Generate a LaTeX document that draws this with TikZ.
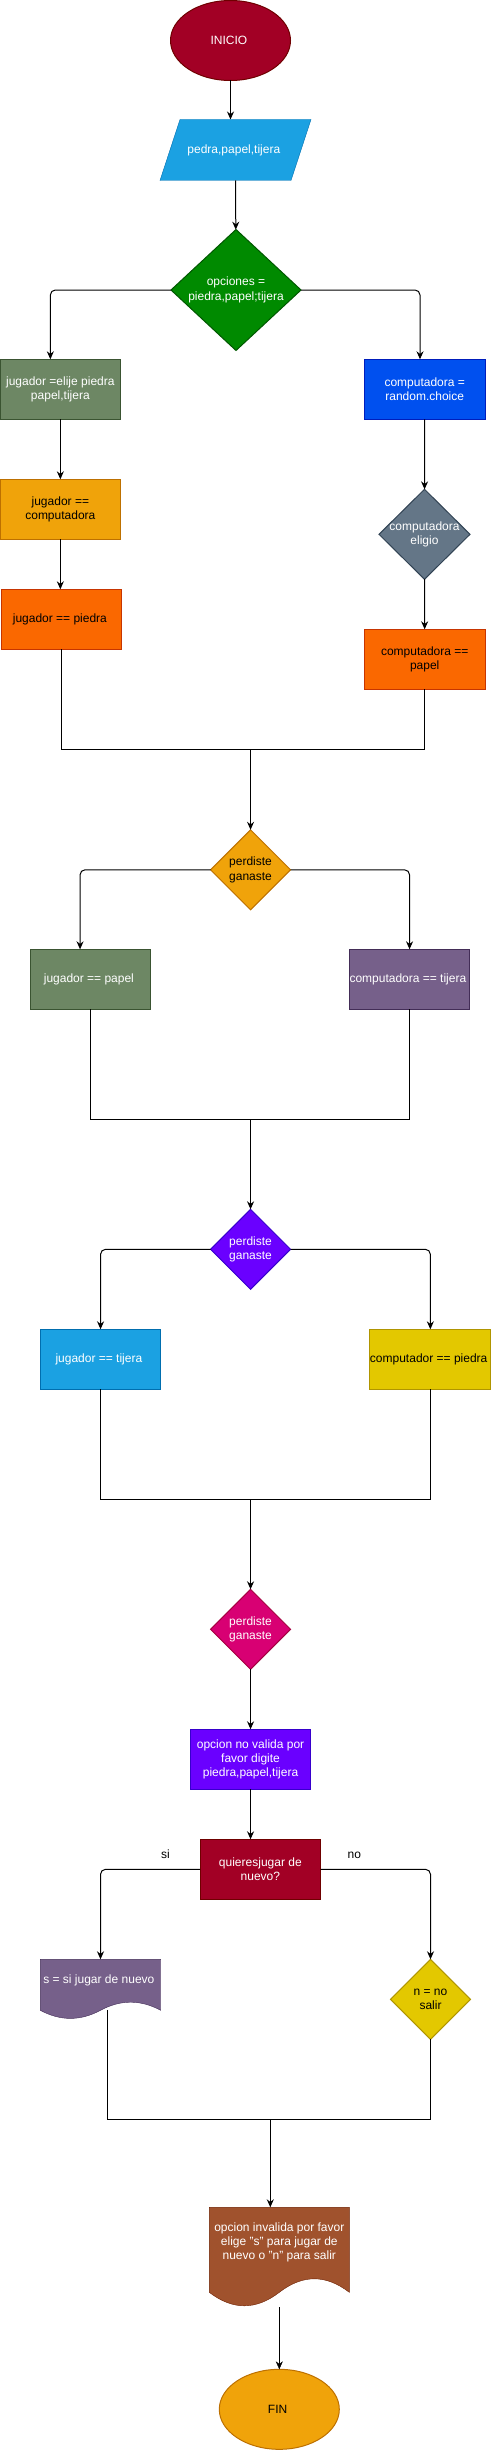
\documentclass[tikz,border=0pt]{standalone}
\usepackage{fontspec}
\setmainfont{Liberation Sans}
\usetikzlibrary{positioning,shapes.geometric,arrows.meta,backgrounds,calc}
\definecolor{carmin}{HTML}{A20025}\definecolor{carminB}{HTML}{6F0000}
\definecolor{celeste}{HTML}{1BA1E2}\definecolor{celesteB}{HTML}{006EAF}
\definecolor{verde}{HTML}{008A00}\definecolor{verdeB}{HTML}{005700}
\definecolor{musgo}{HTML}{6D8764}\definecolor{musgoB}{HTML}{3A5431}
\definecolor{azul}{HTML}{0050EF}\definecolor{azulB}{HTML}{001DBC}
\definecolor{ambar}{HTML}{F0A30A}\definecolor{ambarB}{HTML}{BD7000}
\definecolor{naranja}{HTML}{FA6800}\definecolor{naranjaB}{HTML}{C73500}
\definecolor{pizarra}{HTML}{647687}\definecolor{pizarraB}{HTML}{314354}
\definecolor{morado}{HTML}{76608A}\definecolor{moradoB}{HTML}{432D57}
\definecolor{violeta}{HTML}{6A00FF}\definecolor{violetaB}{HTML}{3700CC}
\definecolor{amarillo}{HTML}{E3C800}\definecolor{amarilloB}{HTML}{B09500}
\definecolor{magenta}{HTML}{D80073}\definecolor{magentaB}{HTML}{A50040}
\definecolor{siena}{HTML}{A0522D}\definecolor{sienaB}{HTML}{6D1F00}
\tikzstyle{base}=[font=\fontsize{12}{14.4}\selectfont, align=center, inner sep=0pt, outer sep=0pt, line width=1pt]
\tikzstyle{proc}=[base, rectangle, draw, minimum width=120.7pt, minimum height=60pt]
\tikzstyle{decision}=[base, diamond, draw, minimum width=80pt, minimum height=80pt]
\tikzstyle{terminal}=[base, ellipse, draw, minimum width=120pt, minimum height=80pt]
\tikzstyle{docnode}=[base, rectangle]
\tikzstyle{lbl}=[font=\fontsize{12}{14.4}\selectfont, inner sep=0pt]
\tikzset{>={Stealth[length=8pt,width=7pt]}}
% hoja con borde inferior ondulado, dibujada bajo el nodo
\newcommand{\wavedoc}[5]{%
    \filldraw[fill=#4, draw=#5]
        (#1.north west) -- ($(#1.north west)+(#2,0)$)
        -- ($(#1.north west)+(#2,-0.85*#3)$)
        .. controls ($(#1.north west)+(0.8333*#2,-0.67*#3)$) and ($(#1.north west)+(0.6667*#2,-0.67*#3)$)
        .. ($(#1.north west)+(0.5*#2,-0.85*#3)$)
        .. controls ($(#1.north west)+(0.3333*#2,-1.03*#3)$) and ($(#1.north west)+(0.1667*#2,-1.03*#3)$)
        .. ($(#1.north west)+(0,-0.85*#3)$) -- cycle;}

\begin{document}
\begin{tikzpicture}[x=1pt, y=1pt, line width=1pt]
        \useasboundingbox (0,0) rectangle (491,-2451);

        \node(inicio)[terminal, fill=carmin, draw=carminB, text=white] at (230.5,-40.5) {
            INICIO
        };
        \node(datos)[docnode, text=white, minimum width=131pt, minimum height=61pt, below=39pt of inicio, xshift=5pt] {
            pedra,papel,tijera
        };
        \draw[->] (inicio) -- (inicio |- datos.north);

        \node(opciones)[decision, fill=verde, draw=verdeB, text=white, minimum width=130pt, minimum height=121pt, below=49pt of datos, xshift=0.5pt] {
            opciones =\\piedra,papel;tijera
        };
        \draw[->] (datos) -- (opciones);

        % rama del jugador
        \node(jelije)[proc, fill=musgo, draw=musgoB, text=white, below=8.8pt of opciones, xshift=-175.65pt] {
            jugador =elije piedra\\papel,tijera
        };
        \node(jcomp)[proc, fill=ambar, draw=ambarB, below=60pt of jelije] {
            jugador ==\\computadora
        };
        \node(jpiedra)[proc, fill=naranja, draw=naranjaB, below=50pt of jcomp, xshift=1.2pt] {
            jugador == piedra
        };
        \draw[->, rounded corners=5pt] (opciones.west) -| ([xshift=-10pt]jelije.north);
        \draw[->] (jelije) -- (jcomp);
        \draw[->] (jcomp) -- (jcomp |- jpiedra.north);

        % rama de la computadora
        \node(crandom)[proc, fill=azul, draw=azulB, text=white, below=8.8pt of opciones, xshift=188.7pt] {
            computadora =\\random.choice
        };
        \node(celigio)[decision, fill=pizarra, draw=pizarraB, text=white, inner sep=-2.5pt, minimum width=91pt, minimum height=90pt, below=70pt of crandom, xshift=-0.2pt] {
            computadora\\eligio
        };
        \node(cpapel)[proc, fill=naranja, draw=naranjaB, below=50pt of celigio, xshift=0.2pt] {
            computadora ==\\papel
        };
        \draw[->, rounded corners=5pt] (opciones.east) -| ([xshift=-4.7pt]crandom.north);
        \draw[->] (crandom) -- (celigio);
        \draw[->] (celigio) -- (cpapel);

        % primera comparacion
        \node(perd1)[decision, fill=ambar, draw=ambarB, below=180.5pt of jpiedra, xshift=189pt] {
            perdiste\\ganaste
        };
        \coordinate[above=80.5pt of perd1] (j1);
        \draw (jpiedra.south) |- (j1) -| (cpapel.south);
        \draw[->] (j1) -- (perd1);

        \node(jpapel)[proc, fill=musgo, draw=musgoB, text=white, below=39.5pt of perd1, xshift=-160pt] {
            jugador == papel
        };
        \node(ctijera)[proc, fill=morado, draw=moradoB, text=white, below=39.5pt of perd1, xshift=159pt] {
            computadora == tijera
        };
        \draw[->, rounded corners=5pt] (perd1.west) -| ([xshift=-10.5pt]jpapel.north);
        \draw[->, rounded corners=5pt] (perd1.east) -| (ctijera.north);

        % segunda comparacion
        \node(perd2)[decision, fill=violeta, draw=violetaB, text=white, below=200pt of jpapel, xshift=160pt] {
            perdiste\\ganaste
        };
        \coordinate[above=90pt of perd2] (j2);
        \draw (jpapel.south) |- (j2) -| (ctijera.south);
        \draw[->] (j2) -- (perd2);

        \node(jtijera)[proc, fill=celeste, draw=celesteB, text=white, below=40pt of perd2, xshift=-150pt] {
            jugador == tijera
        };
        \node(cpiedra)[proc, fill=amarillo, draw=amarilloB, below=40pt of perd2, xshift=179.8pt] {
            computador == piedra
        };
        \draw[->, rounded corners=5pt] (perd2.west) -| (jtijera.north);
        \draw[->, rounded corners=5pt] (perd2.east) -| (cpiedra.north);

        % tercera comparacion
        \node(perd3)[decision, fill=magenta, draw=magentaB, text=white, below=200pt of jtijera, xshift=150pt] {
            perdiste\\ganaste
        };
        \coordinate[above=90pt of perd3] (j3);
        \draw (jtijera.south) |- (j3) -| (cpiedra.south);
        \draw[->] (j3) -- (perd3);

        \node(invalida)[proc, fill=violeta, draw=violetaB, text=white, below=60pt of perd3] {
            opcion no valida por\\favor digite\\piedra,papel,tijera
        };
        \draw[->] (perd3) -- (invalida);

        \node(quieres)[proc, fill=carmin, draw=carminB, text=white, below=50pt of invalida, xshift=9.8pt] {
            quieresjugar de\\nuevo?
        };
        \draw[->] (invalida) -- (invalida |- quieres.north);

        % jugar de nuevo o salir
        \node(sdoc)[docnode, text=white, minimum width=120.4pt, minimum height=42pt, below=60pt of quieres, xshift=-159.85pt] {
            s = si jugar de nuevo
        };
        \node(nsalir)[decision, fill=amarillo, draw=amarilloB, below=60pt of quieres, xshift=170.15pt] {
            n = no\\salir
        };
        \draw[->, rounded corners=5pt] (quieres.west) -| node[lbl, pos=0.174, above=10.7pt] {si} (sdoc.north);
        \draw[->, rounded corners=5pt] (quieres.east) -| node[lbl, pos=0.153, above=10.7pt] {no} (nsalir.north);

        \node(invdoc)[docnode, text=white, minimum width=140pt, minimum height=70pt, below=206pt of sdoc, xshift=178.8pt] {
            opcion invalida por favor\\elige "s" para jugar de\\nuevo o "n" para salir
        };
        \coordinate[above=88pt of invdoc.north, xshift=-9pt] (j4);
        \draw ([xshift=6.8pt, yshift=-9pt]sdoc.south) |- (j4) -| (nsalir.south);
        \draw[->] (j4) -- (j4 |- invdoc.north);

        \begin{pgfonlayer}{background}
            \filldraw[fill=celeste, draw=celesteB] ([xshift=-10pt]datos.south west) -- ([xshift=-10pt]datos.south east)
                -- ([xshift=10pt]datos.north east) -- ([xshift=10pt]datos.north west) -- cycle;
            \wavedoc{sdoc}{120.4}{60}{morado}{moradoB}
            \wavedoc{invdoc}{140}{100}{siena}{sienaB}
        \end{pgfonlayer}

        \node(fin)[terminal, fill=ambar, draw=ambarB, below=92pt of invdoc] {
            FIN
        };
        \draw[->] ([yshift=-30pt]invdoc.south) -- (fin);
\end{tikzpicture}
\end{document}
